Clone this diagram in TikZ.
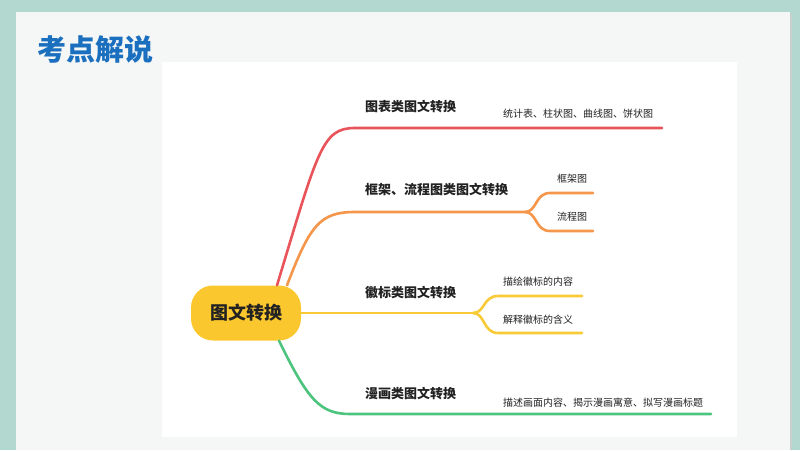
\documentclass[tikz,border=0pt]{standalone}
\usepackage{fontspec}
\setmainfont{Noto Sans CJK SC}
\usetikzlibrary{positioning}

\definecolor{frameteal}{HTML}{B3D8CF}
\definecolor{slidegrey}{HTML}{F5F6F6}
\definecolor{shadowgrey}{HTML}{C9CFCD}
\definecolor{titleblue}{HTML}{1A6FBF}
\definecolor{hubyellow}{HTML}{FBC72E}
\definecolor{chartred}{HTML}{E9545B}
\definecolor{frameorange}{HTML}{F5964B}
\definecolor{logoyellow}{HTML}{F8CA36}
\definecolor{comicgreen}{HTML}{4DC47D}
\definecolor{textgrey}{HTML}{222222}

\begin{document}
\begin{tikzpicture}[x=1pt, y=-1pt,
branch/.style={line width=2.6pt, line cap=round},
hubnode/.style={rectangle, rounded corners=22pt, fill=hubyellow, minimum width=110pt, minimum height=55pt, text=textgrey, font=\fontsize{18}{20}\selectfont\bfseries},
toplabel/.style={anchor=west, inner sep=0pt, text=textgrey, font=\fontsize{13}{15}\selectfont\bfseries},
leaflabel/.style={anchor=west, inner sep=0pt, text=textgrey, font=\fontsize{10}{12}\selectfont},
]

% slide background
\useasboundingbox (0,0) rectangle (800,450);
\fill[frameteal] (0,0) rectangle (800,450);
\fill[slidegrey] (16,12) rectangle (790,450);
\draw[shadowgrey, line width=1.5pt] (790.75,14) -- (790.75,450);
\fill[white] (162,62) rectangle (737,437);

\node[text=titleblue, font=\fontsize{29}{32}\selectfont\bfseries] (Title) at (95,50) {考点解说};

\node[hubnode] (Hub) at (246,313) {图文转换};

\coordinate (ChartEnd)   at (662,128);
\coordinate (FrameFork)  at (525,212);
\coordinate (FrameEnd)   at (593,193);
\coordinate (FlowEnd)    at (593,231);
\coordinate (LogoFork)   at (473,313);
\coordinate (DrawEnd)    at (582,296);
\coordinate (ExplainEnd) at (582,333);
\coordinate (ComicEnd)   at (711,414);

\draw[branch, chartred] ([xshift=31pt]Hub.north) .. controls (318,150) and (322,128) .. (355,128) -- (ChartEnd);
\draw[branch, frameorange] ([xshift=41pt]Hub.north) .. controls (310,225) and (320,212) .. (355,212) -- (FrameFork);
\draw[branch, frameorange] (FrameFork) .. controls (537,212) and (535,193) .. (550,193) -- (FrameEnd);
\draw[branch, frameorange] (FrameFork) .. controls (537,212) and (535,231) .. (550,231) -- (FlowEnd);
\draw[branch, logoyellow] (Hub.east) -- (LogoFork);
\draw[branch, logoyellow] (LogoFork) .. controls (485,313) and (483,296) .. (498,296) -- (DrawEnd);
\draw[branch, logoyellow] (LogoFork) .. controls (485,313) and (483,333) .. (498,333) -- (ExplainEnd);
\draw[branch, comicgreen] ([xshift=33pt]Hub.south) .. controls (308,400) and (320,414) .. (350,414) -- (ComicEnd);

\node[toplabel] (ChartLabel) at (365,107) {图表类图文转换};
\node[toplabel] (FrameLabel) at (365,190) {框架、流程图类图文转换};
\node[toplabel] (LogoLabel)  at (365,293) {徽标类图文转换};
\node[toplabel] (ComicLabel) at (365,394) {漫画类图文转换};

\node[leaflabel] (ChartLeaf)   at (503,114) {统计表、柱状图、曲线图、饼状图};
\node[leaflabel] (FrameLeaf)   at (557,179) {框架图};
\node[leaflabel] (FlowLeaf)    at (557,217) {流程图};
\node[leaflabel] (DrawLeaf)    at (503,282) {描绘徽标的内容};
\node[leaflabel] (ExplainLeaf) at (503,320) {解释徽标的含义};
\node[leaflabel] (ComicLeaf)   at (503,403) {描述画面内容、揭示漫画寓意、拟写漫画标题};

\end{tikzpicture}
\end{document}
